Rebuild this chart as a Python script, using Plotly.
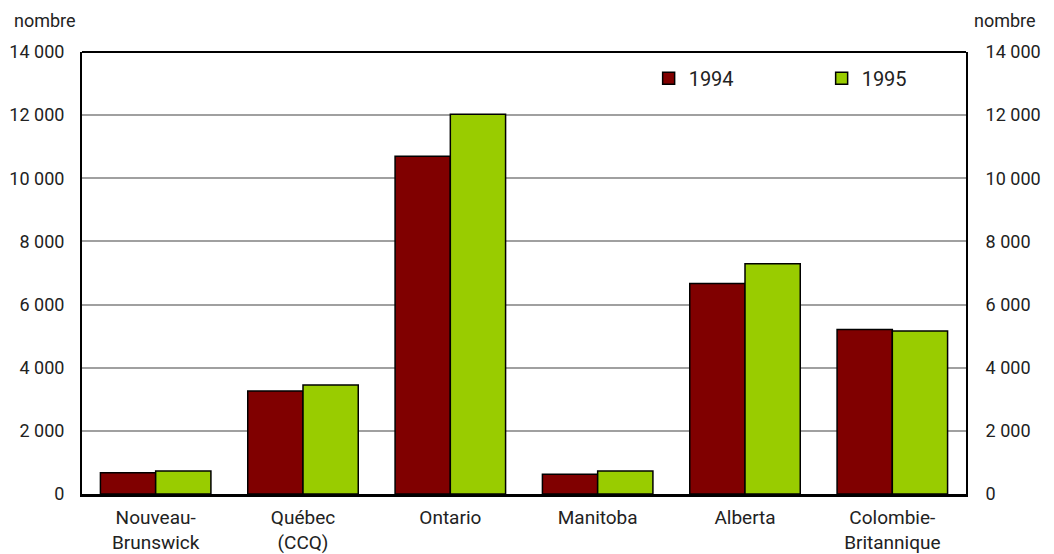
import plotly.graph_objects as go

categories = ["Nouveau-<br>Brunswick", "Québec<br>(CCQ)", "Ontario", "Manitoba", "Alberta", "Colombie-<br>Britannique"]
values_1994 = [675, 3260, 10700, 625, 6670, 5210]
values_1995 = [730, 3450, 12030, 730, 7290, 5160]
series_names = ["1994", "1995"]
tick_vals = [0, 2000, 4000, 6000, 8000, 10000, 12000, 14000]

FONT = "Roboto, 'Liberation Sans', Arial, sans-serif"
TXT = "#222222"

fig = go.Figure()
fig.add_trace(go.Bar(x=categories, y=values_1994, name=series_names[0],
                     marker=dict(color="#800000", line=dict(color="#000000", width=1.5))))
fig.add_trace(go.Bar(x=categories, y=values_1995, name=series_names[1],
                     marker=dict(color="#99CC00", line=dict(color="#000000", width=1.5))))
fig.add_trace(go.Scatter(x=[categories[0]], y=[None], yaxis="y2", showlegend=False,
                         hoverinfo="skip", mode="markers"))

# page body has an 8px margin, so the figure is sized and offset to fit the 1054x554 window
fig.update_layout(
    width=1046, height=546,
    margin=dict(l=74, r=88, t=44, b=60, autoexpand=False),
    paper_bgcolor="white", plot_bgcolor="white",
    barmode="group", bargap=0.25, bargroupgap=0,
    separators=", ",
    font=dict(family=FONT, size=18, color=TXT),
    showlegend=True,
    legend=dict(orientation="h", x=0.641, y=0.985, xanchor="left", yanchor="top",
                bgcolor="rgba(0,0,0,0)", font=dict(size=20, color=TXT),
                entrywidth=128, entrywidthmode="pixels", traceorder="normal"),
    xaxis=dict(showline=True, linecolor="black", linewidth=3, ticks="",
               tickfont=dict(size=19, color=TXT), showgrid=False, automargin=False,
               ticklabelstandoff=4),
    yaxis=dict(range=[0, 14000], tickvals=tick_vals, tickformat=",d",
               showgrid=True, gridcolor="#a0a0a0", gridwidth=1.5,
               showline=True, linecolor="black", linewidth=2, ticks="",
               ticklabelstandoff=12, zeroline=False, automargin=False,
               tickfont=dict(size=18, color=TXT)),
    yaxis2=dict(range=[0, 14000], tickvals=tick_vals, tickformat=",d",
                overlaying="y", side="right", showgrid=False,
                showline=True, linecolor="black", linewidth=2, ticks="",
                ticklabelstandoff=14, zeroline=False, automargin=False,
                tickfont=dict(size=18, color=TXT)),
    shapes=[dict(type="line", xref="paper", yref="paper", x0=0, x1=1, y0=1, y1=1,
                 line=dict(color="black", width=2))],
    annotations=[
        dict(text="nombre", xref="paper", yref="paper", x=-0.079, y=1.0, yshift=32,
             xanchor="left", yanchor="middle", showarrow=False, font=dict(size=18, color=TXT)),
        dict(text="nombre", xref="paper", yref="paper", x=1.081, y=1.0, yshift=32,
             xanchor="right", yanchor="middle", showarrow=False, font=dict(size=18, color=TXT)),
    ],
)

fig.write_html("out.html")
